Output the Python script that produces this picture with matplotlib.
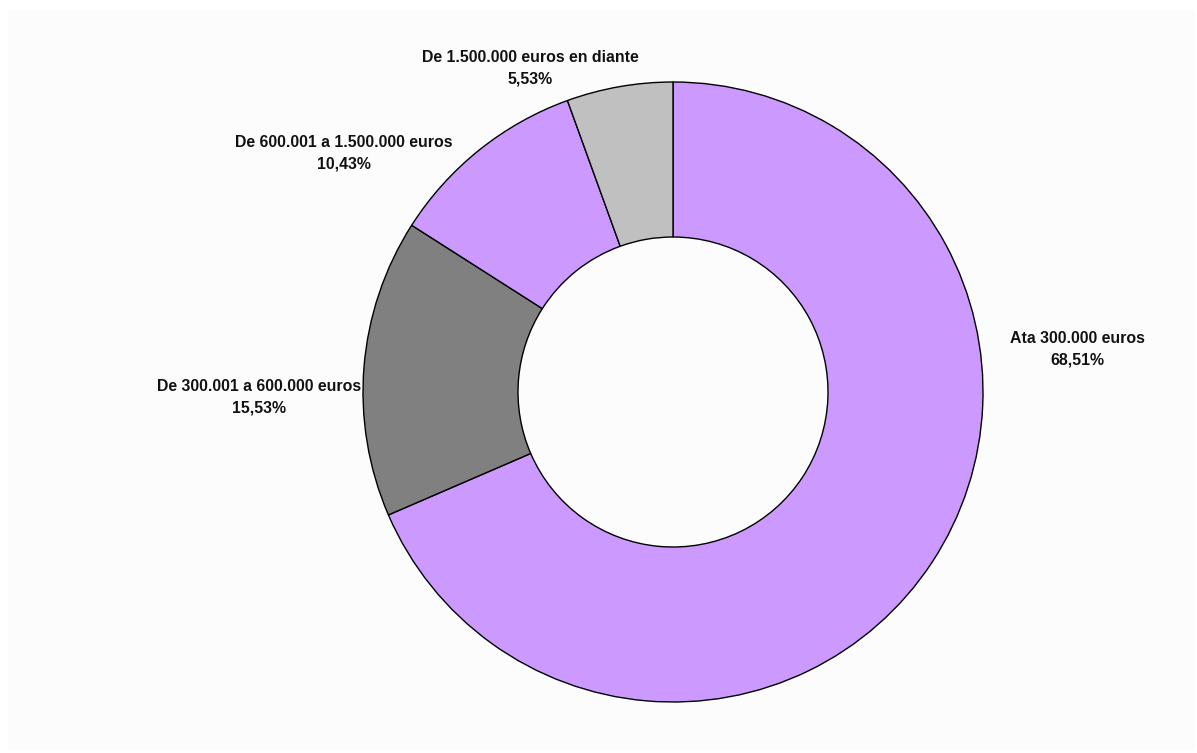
import matplotlib.pyplot as plt
from matplotlib.patches import Rectangle

# Share of each band (%)
categorias = ['Ata 300.000 euros',
              'De 300.001 a 600.000 euros',
              'De 600.001 a 1.500.000 euros',
              'De 1.500.000 euros en diante']
porcentaxes = [68.51, 15.53, 10.43, 5.53]
cores = ['#CC99FF', '#808080', '#CC99FF', '#C0C0C0']

# label anchor points (pixels, origin bottom-left)
posicions = [(1077, 404), (259, 356), (344, 600), (530, 685)]

plt.rcParams['font.family'] = ['Liberation Sans', 'DejaVu Sans']

fig = plt.figure(figsize=(11.97, 7.53), dpi=100, facecolor='white')
ax = fig.add_axes([0, 0, 1, 1])

ax.add_patch(Rectangle((8, 3), 1187, 740, facecolor='#FCFCFC', edgecolor='none', zorder=0))

ax.pie(porcentaxes, colors=cores, startangle=90, counterclock=False,
       center=(673, 361), radius=310, frame=True,
       wedgeprops=dict(width=155, edgecolor='black', linewidth=1))
ax.set_xlim(0, 1197)
ax.set_ylim(0, 753)
ax.set_aspect('equal')
ax.axis('off')

for nome, valor, (x, y) in zip(categorias, porcentaxes, posicions):
    texto = '%s\n%s%%' % (nome, ('%.2f' % valor).replace('.', ','))
    ax.text(x, y, texto, ha='center', va='center', fontsize=11.4,
            fontweight='bold', linespacing=1.55, color='#111111')

fig.savefig('out.png', dpi=100, facecolor='white')
